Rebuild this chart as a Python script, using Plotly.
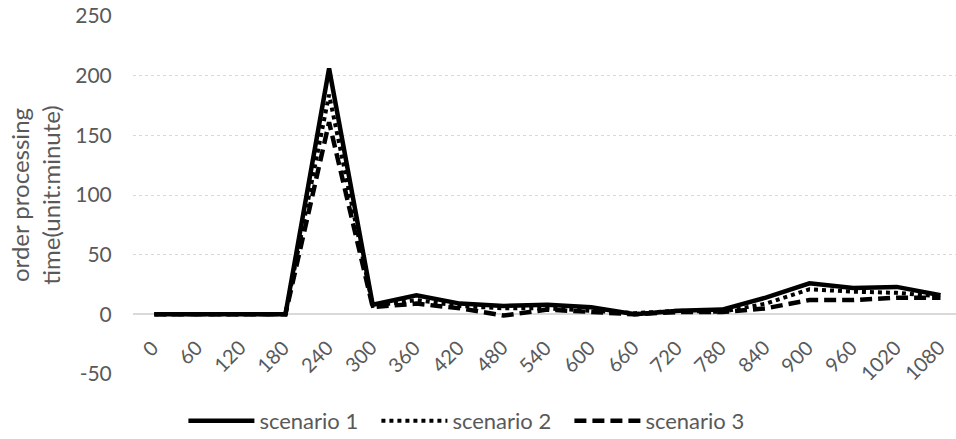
import plotly.graph_objects as go

# Time of order arrival (minutes)
minutes = ["0", "60", "120", "180", "240", "300", "360", "420", "480", "540",
           "600", "660", "720", "780", "840", "900", "960", "1020", "1080"]

# Order processing time (minutes) for each scenario
scenario_1 = [0, 0, 0, 0, 206, 8, 16, 9, 7, 8, 6, 0, 3, 4, 14, 26, 22, 23, 16]
scenario_2 = [0, 0, 0, 0, 184, 7, 12, 7, 5, 5, 3, 1, 3, 2, 9, 21, 19, 18, 15]
scenario_3 = [0, 0, 0, 0, 161, 6, 9, 5, -1, 4, 2, 0, 2, 2, 5, 12, 12, 14, 14]

y_ticks = [-50, 0, 50, 100, 150, 200, 250]
y_tick_text = ["-50", "0", "50", "100", "150", "200", "250"]

FONT = "Lato, 'DejaVu Sans', sans-serif"
GREY = "#595959"

fig = go.Figure()
fig.add_trace(go.Scatter(x=minutes, y=scenario_1, name="scenario 1", mode="lines",
                         line=dict(color="black", width=4.5)))
fig.add_trace(go.Scatter(x=minutes, y=scenario_2, name="scenario 2", mode="lines",
                         line=dict(color="black", width=4, dash="4px,4px")))
fig.add_trace(go.Scatter(x=minutes, y=scenario_3, name="scenario 3", mode="lines",
                         line=dict(color="black", width=4.5, dash="12px,6px")))

# Category labels sit just under the zero line, slanted at 45 degrees,
# each one ending at the upper right next to its category (by category index).
for idx, m in enumerate(minutes):
    fig.add_annotation(x=idx, y=0, xref="x", yref="y", text=m, showarrow=False,
                       textangle=-45, xanchor="right", yanchor="top",
                       xshift=11, yshift=-18,
                       font=dict(family=FONT, size=20, color=GREY))

fig.update_layout(
    width=956, height=439,
    margin=dict(l=133, r=0, t=16, b=65, autoexpand=False),
    paper_bgcolor="white", plot_bgcolor="white",
    font=dict(family=FONT, size=20, color=GREY),
    showlegend=True,
    legend=dict(orientation="h", x=0.413, xanchor="center", y=-0.131, yanchor="middle",
                font=dict(family=FONT, size=22, color=GREY), itemwidth=66,
                entrywidth=112, bgcolor="rgba(0,0,0,0)", tracegroupgap=0),
    xaxis=dict(type="category", range=[-0.49, 18.355], automargin=False,
               showgrid=False, showline=False, zeroline=False,
               showticklabels=False, ticks=""),
    yaxis=dict(range=[-50, 250], tickvals=y_ticks, ticktext=y_tick_text,
               automargin=False, showgrid=True,
               gridcolor="#d9d9d9", gridwidth=1.3, griddash="dot",
               zeroline=True, zerolinecolor="#d9d9d9", zerolinewidth=1.5,
               ticks="outside", ticklen=16, tickcolor="rgba(0,0,0,0)",
               tickfont=dict(size=21, color=GREY),
               title=dict(text="order processing<br>time(unit:minute)",
                          font=dict(size=24, color=GREY), standoff=7)),
)

fig.write_html("out.html")
